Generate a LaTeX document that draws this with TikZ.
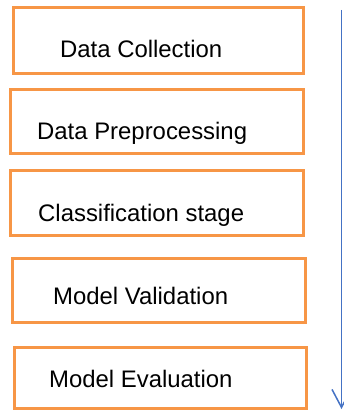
\documentclass[tikz,border=0pt]{standalone}
\usepackage{fontspec}
\setmainfont{Liberation Sans}
\usetikzlibrary{arrows.meta}
\definecolor{boxorange}{HTML}{F79646}
\definecolor{flowblue}{HTML}{4472C4}

\begin{document}
\begin{tikzpicture}[x=1pt, y=-1pt]
 \tikzstyle{stage}=[rectangle, draw=boxorange, line width=3pt, inner sep=0pt]
 \tikzstyle{stagetext}=[anchor=base west, inner sep=0pt, font=\fontsize{23.9}{28}\selectfont]
 \tikzstyle{flow}=[->, >={Straight Barb[length=18pt, width=19pt]}, draw=flowblue, line width=1.5pt]
 \useasboundingbox (0,0) rectangle (343,412);
 %
 \node[stage, minimum width=290.5pt, minimum height=65.5pt] (DC) at (158.25, 40.75) {};
 \node[stage, minimum width=293pt, minimum height=64pt] (DP) at (157, 121.5) {};
 \node[stage, minimum width=292.7pt, minimum height=65pt] (CS) at (157.15, 203) {};
 \node[stage, minimum width=292.5pt, minimum height=64pt] (MV) at (158.75, 290) {};
 \node[stage, minimum width=291.7pt, minimum height=61.5pt] (ME) at (160.65, 377.75) {};
 %
 \node[stagetext] (DCtext) at (60, 57) {Data Collection};
 \node[stagetext] (DPtext) at (37, 139) {Data Preprocessing};
 \node[stagetext] (CStext) at (38, 221) {Classification stage};
 \node[stagetext] (MVtext) at (53, 304) {Model Validation};
 \node[stagetext] (MEtext) at (49, 387) {Model Evaluation};
 %%
 \coordinate (flowtop) at (341.5, 10);
 \coordinate (flowend) at (341.5, 409);
 \draw[flow] (flowtop)--(flowend);
\end{tikzpicture}
\end{document}
